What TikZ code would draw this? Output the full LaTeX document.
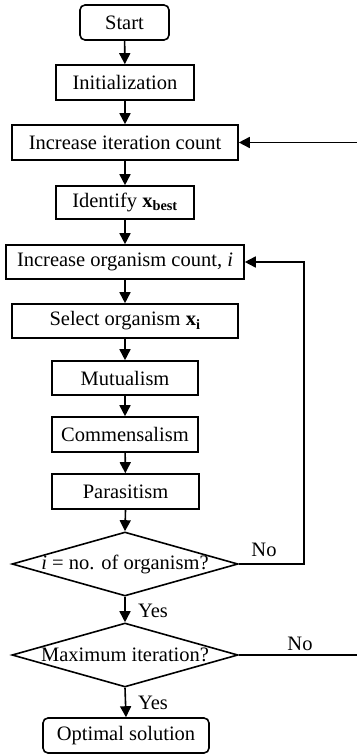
\documentclass[tikz,border=0pt]{standalone}
\usepackage{fontspec}
\setmainfont{Liberation Serif}
\usetikzlibrary{shapes.geometric,arrows.meta}
\begin{document}
\begin{tikzpicture}[x=1pt,y=-1pt,
  every node/.style={font=\fontsize{20.5}{24}\selectfont},
  box/.style={draw, line width=1.6pt, inner sep=0pt, minimum height=35pt},
  term/.style={box, rounded corners=5pt},
  decision/.style={draw, line width=1.6pt, diamond, inner sep=0pt, minimum width=226pt, minimum height=64pt, aspect=3.53},
  conn/.style={line width=1.6pt, -{Triangle[length=11pt,width=11pt]}},
  plain/.style={line width=1.6pt},
  lab/.style={inner sep=0pt}]
\useasboundingbox (0,0) rectangle (356,754);
\node[term, minimum width=89pt] (start) at (124.5,22.5) {Start};
\node[box, minimum width=138pt] (init) at (125,82.5) {Initialization};
\node[box, minimum width=226pt] (iter) at (125,142.5) {Increase iteration count};
\node[box, minimum width=138pt, minimum height=33pt] (ident) at (125,202.5) {Identify \textbf{x}\textsubscript{\textbf{best}}};
\node[box, minimum width=238pt, minimum height=34pt] (org) at (125,262) {Increase organism count, \textit{i}};
\node[box, minimum width=226pt, minimum height=34pt] (sel) at (125,321) {Select organism \textbf{x}\textsubscript{\textbf{i}}};
\node[box, minimum width=146pt, minimum height=34pt] (mut) at (125,378) {Mutualism};
\node[box, minimum width=146pt] (com) at (125,434.5) {Commensalism};
\node[box, minimum width=147pt] (par) at (125.5,491.5) {Parasitism};
\node[decision, label={[lab]center:\textit{i} = no. of organism?}] (d1) at (125,564) {};
\node[decision, label={[lab]center:Maximum iteration?}] (d2) at (125,655) {};
\node[term, minimum width=166pt] (opt) at (126,735.5) {Optimal solution};
\coordinate (loopA) at (304,564);
\coordinate (noend) at (360,655);
\coordinate (itin) at (360,142.5);
\draw[conn] (start) -- (init);
\draw[conn] (init) -- (iter);
\draw[conn] (iter) -- (ident);
\draw[conn] (ident) -- (org);
\draw[conn] (org) -- (sel);
\draw[conn] (sel) -- (mut);
\draw[conn] (mut) -- (com);
\draw[conn] (com) -- (par);
\draw[conn] (par.south) -- (d1.north);
\draw[conn] (d1.east) -- (loopA) |- (org.east);
\draw[conn] (d1.south) -- (d2.north);
\draw[conn] (d2.south) -- (opt.north);
\draw[plain] (d2.east) -- (noend);
\draw[conn] (itin) -- (iter.east);
\node[lab] (no1) at (264,550) {No};
\node[lab] (no2) at (300,644) {No};
\node[lab] (yes1) at (153,611) {Yes};
\node[lab] (yes2) at (153,703) {Yes};
\end{tikzpicture}
\end{document}
